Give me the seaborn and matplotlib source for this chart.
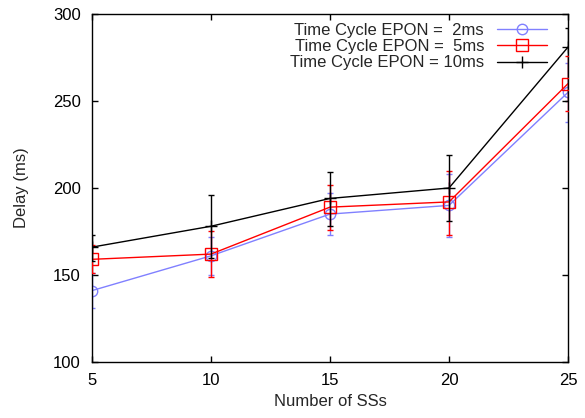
import matplotlib
matplotlib.use("Agg")
import matplotlib.pyplot as plt
import seaborn as sns
import pandas as pd

# number of SSs on the x axis
ssCount = [5, 10, 15, 20, 25]

# delay (ms) per time cycle, with lower / upper error bar ends
delay2 = [141, 161, 185, 190, 255]
low2 = [131, 150, 173, 172, 238]
high2 = [151, 172, 197, 208, 272]

delay5 = [159, 162, 189, 192, 260]
low5 = [151, 149, 176, 173, 244]
high5 = [167, 175, 202, 210, 276]

delay10 = [166, 178, 194, 200, 281]
low10 = [158, 160, 178, 181, 250]
high10 = [173, 196, 209, 219, 292]

labels = ["Time Cycle EPON =  2ms", "Time Cycle EPON =  5ms", "Time Cycle EPON = 10ms"]


def main():
    sns.set_style("ticks")
    plt.rcParams['font.family'] = ['Liberation Sans', 'DejaVu Sans']

    fig = plt.figure(figsize=(5.85, 4.18), dpi=100)
    ax = fig.add_axes([0.157, 0.134, 0.814, 0.8325])

    series = [
        (delay2, low2, high2, "#8080ff", "o", 7.5),
        (delay5, low5, high5, "#ff0000", "s", 8),
        (delay10, low10, high10, "#000000", "+", 9),
    ]
    for i, (d, lo, hi, col, mk, ms) in enumerate(series):
        df = pd.DataFrame({"x": ssCount, "y": d})
        yerr = [[a - b for a, b in zip(d, lo)], [b - a for a, b in zip(d, hi)]]
        ax.errorbar(ssCount, d, yerr=yerr, fmt="none", ecolor=col,
                    elinewidth=1, capsize=2, capthick=1, zorder=2 + i)
        sns.lineplot(data=df, x="x", y="y", ax=ax, color=col, marker=mk,
                     markersize=ms, markerfacecolor="none", markeredgecolor=col,
                     markeredgewidth=1, linewidth=1, label=labels[i], zorder=2 + i)

    ax.set_xlim(5, 25)
    ax.set_ylim(100, 300)
    ax.set_xticks([5, 10, 15, 20, 25])
    ax.set_yticks([100, 150, 200, 250, 300])
    ax.tick_params(direction="in", top=True, right=True, length=4.5,
                   width=1, labelsize=12, colors="black", pad=8)
    for s in ax.spines.values():
        s.set_linewidth(1)
        s.set_color("black")
    ax.set_xlabel("Number of SSs", fontsize=12, labelpad=4)
    ax.set_ylabel("Delay (ms)", fontsize=12, labelpad=17)

    ax.legend(loc="upper right", frameon=False, markerfirst=False, fontsize=12,
              handlelength=3.0, handletextpad=0.78, labelspacing=0.08,
              borderaxespad=0, borderpad=0, bbox_to_anchor=(0.956, 0.975))

    fig.savefig("out.png", dpi=100)


main()
